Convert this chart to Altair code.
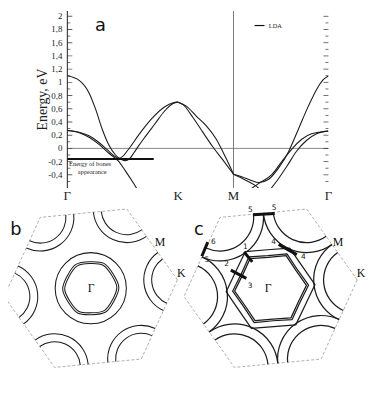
import math
import altair as alt
import pandas as pd

SERIF = "Liberation Serif"
SANS = "DejaVu Sans"
INK = "#1c1c1c"

# ================= panel a : bands along Γ–K–M–Γ =================
# path coordinate: Γ = 0, K = 1, M = 1.5, Γ = 2.357
kpath_pos = [0.0, 1.0, 1.5, 2.357]
kpath_lab = ["Γ", "K", "M", "Γ"]
y_major = [-0.4, -0.2, 0.0, 0.2, 0.4, 0.6, 0.8, 1.0, 1.2, 1.4, 1.6, 1.8, 2.0]
y_minor = [-0.5, -0.3, -0.1, 0.1, 0.3, 0.5, 0.7, 0.9, 1.1, 1.3, 1.5, 1.7, 1.9]
y_title = "Energy, eV"

b1_k = [0, 0.107, 0.196, 0.256, 0.315, 0.375, 0.435, 0.48, 0.52, 0.56, 0.60, 0.64, 0.70, 0.79, 0.88, 0.955, 1.0]
b1_E = [1.10, 1.03, 0.84, 0.59, 0.29, 0.05, -0.10, -0.16, -0.185, -0.16, -0.07, 0.03, 0.17, 0.37, 0.57, 0.68, 0.70]
b2_k = [0, 0.107, 0.196, 0.286, 0.36, 0.42, 0.464, 0.50, 0.54, 0.58, 0.643, 0.762, 0.88, 0.955, 1.0]
b2_E = [0.27, 0.245, 0.19, 0.09, -0.02, -0.11, -0.15, -0.12, -0.04, 0.05, 0.20, 0.45, 0.63, 0.69, 0.70]
b3_k = [0, 0.107, 0.196, 0.286, 0.375, 0.464, 0.524, 0.583, 0.628, 0.66]
b3_E = [0.27, 0.236, 0.168, 0.06, -0.074, -0.196, -0.34, -0.49, -0.61, -0.70]
k1_k = [1.0, 1.045, 1.134, 1.223, 1.3125, 1.402, 1.5]
k1_E = [0.70, 0.663, 0.467, 0.246, 0.025, -0.171, -0.392]
k2_k = [1.0, 1.074, 1.164, 1.253, 1.342, 1.432, 1.5]
k2_E = [0.70, 0.64, 0.49, 0.345, 0.147, -0.147, -0.392]
m1_k = [1.5, 1.58, 1.655, 1.729, 1.818, 1.908, 1.997, 2.087, 2.176, 2.265, 2.31, 2.357]
m1_E = [-0.392, -0.432, -0.481, -0.516, -0.466, -0.295, -0.049, 0.295, 0.64, 0.934, 1.04, 1.096]
m2_k = [1.5, 1.61, 1.699, 1.759]
m2_E = [-0.392, -0.481, -0.564, -0.65]
m3_k = [1.625, 1.729, 1.848, 1.9375, 2.027, 2.116, 2.205, 2.357]
m3_E = [-0.65, -0.53, -0.392, -0.196, -0.01, 0.138, 0.221, 0.26]
m4_k = [1.818, 1.893, 1.982, 2.071, 2.161, 2.25, 2.357]
m4_E = [-0.65, -0.49, -0.27, -0.04, 0.123, 0.221, 0.265]

bones_E = -0.16
bones_k = [0.0, 0.78]
bones_text = ["Energy of bones", "appearance"]

# ================= panels b, c : Fermi contours (px from Γ, y up) =================
bz_x = [87.6, 36.5, -51.1, -87.6, -36.5, 51.1]
bz_y = [8.4, 80.1, 71.6, -8.4, -80.1, -71.6]
k_sector_start = [204.5, 144.5, 84.5, 24.5, 324.5, 264.5]   # deg, clockwise from 12 o'clock

# Γ-centred hexagonal contours: radius to the corners / to the flat sides, tilt (deg)
b_hex_corner = [31.0, 28.8]
b_hex_flat = [26.8, 24.9]
b_hex_tilt = 2.0
b_gamma_circle_r = [36]
b_k_arc_r = [26, 34]

c_hex_corner = [38.5, 36.4, 45.0]
c_hex_flat = [33.0, 31.3, 39.0]
c_hex_tilt = 4.5
c_k_arc_r = [34, 44]

c_seg_x1 = [-17.8, -63.5, -26.8, -40.2, 8.2]
c_seg_y1 = [74.3, 46.6, 36.6, 18.3, 44.3]
c_seg_x2 = [4.2, -69.5, -18.5, -24.5, 26.5]
c_seg_y2 = [75.6, 32.3, 26.6, 10.0, 34.0]
c_num_text = ["5", "5", "6", "5", "1", "2", "3", "4", "4"]
c_num_x = [-20.5, 3.5, -57.8, -64.5, -25.5, -44.5, -20.8, 3.2, 33.2]
c_num_y = [79.3, 81.3, 46.3, 28.3, 41.3, 24.3, 2.6, 46.6, 31.6]

# ---------------- panel a ----------------
series = {"b1": (b1_k, b1_E), "b2": (b2_k, b2_E), "b3": (b3_k, b3_E),
          "k1": (k1_k, k1_E), "k2": (k2_k, k2_E), "m1": (m1_k, m1_E),
          "m2": (m2_k, m2_E), "m3": (m3_k, m3_E), "m4": (m4_k, m4_E)}
rows = []
for name, (ks, es) in series.items():
    for i, (k, e) in enumerate(zip(ks, es)):
        rows.append({"band": name, "i": i, "k": k, "E": e})
bands_df = pd.DataFrame(rows)

EMIN, EMAX = -0.6, 2.08
kscale = alt.Scale(domain=[-0.5357, 2.357], nice=False, zero=False)
escale = alt.Scale(domain=[EMIN, EMAX], nice=False, zero=False)
xk = alt.X("k:Q", scale=kscale, axis=None)
yE = alt.Y("E:Q", scale=escale, axis=None)

zero_layer = alt.Chart(pd.DataFrame({"k": [kpath_pos[0]], "k2": [kpath_pos[-1]], "E": [0.0]})).mark_rule(
    color="#7a7a7a", strokeWidth=0.9).encode(x=xk, x2="k2", y=yE)
m_layer = alt.Chart(pd.DataFrame({"k": [kpath_pos[2]]})).mark_rule(
    color="#6a6a6a", strokeWidth=0.9).encode(x=xk)
yaxis_line = alt.Chart(pd.DataFrame({"k": [kpath_pos[0]]})).mark_rule(
    color=INK, strokeWidth=1).encode(x=xk)
bands_layer = alt.Chart(bands_df).mark_line(
    interpolate="monotone", color=INK, strokeWidth=1.1, clip=True).encode(
    x=xk, y=yE, detail="band:N", order="i:Q")
bones_layer = alt.Chart(pd.DataFrame({"k": [bones_k[0]], "k2": [bones_k[1]], "E": [bones_E]})).mark_rule(
    color="#111111", strokeWidth=2.2).encode(x=xk, x2="k2", y=yE)
bones_txt_layer = alt.Chart(pd.DataFrame({"k": [0.205, 0.225], "E": [-0.27, -0.385], "t": bones_text})).mark_text(
    font=SERIF, fontSize=6.5, color=INK, align="center", baseline="alphabetic").encode(x=xk, y=yE, text="t:N")
a_layer = alt.Chart(pd.DataFrame({"k": [0.30], "E": [1.78], "t": ["a"]})).mark_text(
    font=SANS, fontSize=18, color="#111111", align="center", baseline="alphabetic").encode(x=xk, y=yE, text="t:N")
leg_line = alt.Chart(pd.DataFrame({"k": [1.69], "k2": [1.78], "E": [1.86]})).mark_rule(
    color="#111111", strokeWidth=1.2).encode(x=xk, x2="k2", y=yE)
leg_txt = alt.Chart(pd.DataFrame({"k": [1.818], "E": [1.86], "t": ["LDA"]})).mark_text(
    font=SERIF, fontSize=6.5, color=INK, align="left", baseline="middle").encode(x=xk, y=yE, text="t:N")

ylab_df = pd.DataFrame({"k": [kpath_pos[0]] * len(y_major), "E": y_major,
                        "t": [f"{v:g}".replace(".", ",") for v in y_major]})
ylab_layer = alt.Chart(ylab_df).mark_text(
    font=SERIF, fontSize=9, color=INK, align="right", baseline="middle", xOffset=-5).encode(
    x=xk, y=yE, text="t:N")
ytitle_layer = alt.Chart(pd.DataFrame({"k": [-0.222], "E": [0.74], "t": [y_title]})).mark_text(
    font=SERIF, fontSize=14, color=INK, align="center", baseline="middle", angle=270).encode(
    x=xk, y=yE, text="t:N")
xlab_df = pd.DataFrame({"k": kpath_pos, "E": [EMIN] * 4, "t": kpath_lab})
xlab_layer = alt.Chart(xlab_df).mark_text(
    font=SERIF, fontSize=13, color=INK, align="center", baseline="top", yOffset=2).encode(
    x=xk, y=yE, text="t:N")

tick_rows = []
for side, kk in (("L", kpath_pos[0]), ("R", kpath_pos[-1])):
    for v in y_major:
        tick_rows.append({"k": kk, "E": v, "side": side, "kind": "major"})
    for v in y_minor:
        tick_rows.append({"k": kk, "E": v, "side": side, "kind": "minor"})
ticks_df = pd.DataFrame(tick_rows)
tick_layers = []
for side, sgn in (("L", 1), ("R", -1)):
    for kind, ln in (("major", 5), ("minor", 3)):
        tick_layers.append(
            alt.Chart(ticks_df).transform_filter(
                f"datum.side == '{side}' && datum.kind == '{kind}'").mark_tick(
                orient="horizontal", size=ln, thickness=0.9, xOffset=sgn * ln / 2, color=INK).encode(x=xk, y=yE))

panel_a = alt.layer(zero_layer, m_layer, yaxis_line, bands_layer, bones_layer, bones_txt_layer, a_layer,
                    leg_line, leg_txt, ylab_layer, ytitle_layer, xlab_layer,
                    *tick_layers).properties(width=324, height=179)


# ---------------- panels b, c ----------------
def hex_table(corners, flats, tilt):
    rows = []
    for s, (rc, rf) in enumerate(zip(corners, flats)):
        for j in range(12):
            r = rc if j % 2 == 0 else rf
            a = math.radians(tilt + 30 * j)
            rows.append({"s": s, "j": j, "x": r * math.cos(a), "y": r * math.sin(a)})
    return pd.DataFrame(rows)


def bz_panel(xdom, width, hex_df, hex_interp, arc_r, circle_r, label_df, extras, lw):
    xs = alt.Scale(domain=xdom, nice=False, zero=False)
    ys = alt.Scale(domain=[-83.7, 83.3], nice=False, zero=False)
    X = lambda f: alt.X(f"{f}:Q", scale=xs, axis=None)
    Y = lambda f: alt.Y(f"{f}:Q", scale=ys, axis=None)

    border = alt.Chart(pd.DataFrame({"x": bz_x, "y": bz_y, "i": list(range(6))})).mark_line(
        interpolate="linear-closed", color="#9a9a9a", strokeWidth=0.8, strokeDash=[3, 2], clip=True).encode(
        x=X("x"), y=Y("y"), order="i:Q")

    hexes = alt.Chart(hex_df).mark_line(
        interpolate=hex_interp, color=INK, strokeWidth=lw, strokeJoin="round").encode(
        x=X("x"), y=Y("y"), detail="s:N", order="j:Q")

    arows = []
    for r in circle_r:
        arows.append({"cx": 0.0, "cy": 0.0, "t1": 0.0, "t2": 2 * math.pi, "r": r})
    for cx, cy, st in zip(bz_x, bz_y, k_sector_start):
        for r in arc_r:
            arows.append({"cx": cx, "cy": cy, "t1": math.radians(st), "t2": math.radians(st + 120), "r": r})
    arcs = alt.Chart(pd.DataFrame(arows)).mark_arc(filled=False, color=INK, strokeWidth=lw).encode(
        x=X("cx"), y=Y("cy"),
        theta=alt.Theta("t1:Q", scale=None, stack=None), theta2=alt.Theta2("t2"),
        radius=alt.Radius("r:Q", scale=None), radius2=alt.Radius2("r"))

    labs = alt.Chart(label_df).transform_filter("datum.kind == 'pt'").mark_text(
        font=SERIF, fontSize=12, color="#111111", align="center", baseline="middle").encode(
        x=X("x"), y=Y("y"), text="t:N")
    letter = alt.Chart(label_df).transform_filter("datum.kind == 'letter'").mark_text(
        font=SANS, fontSize=18, color="#111111", align="center", baseline="alphabetic").encode(
        x=X("x"), y=Y("y"), text="t:N")
    layers = [border, hexes, arcs, labs, letter] + [e(X, Y) for e in extras]
    return alt.layer(*layers).properties(width=width, height=167)


b_labels = pd.DataFrame({"t": ["Γ", "M", "K", "b"], "x": [0.3, 70.0, 91.6, -75.7],
                         "y": [0.0, 46.6, 15.0, 53.3], "kind": ["pt", "pt", "pt", "letter"]})
c_labels = pd.DataFrame({"t": ["Γ", "M", "K", "c"], "x": [-2.5, 68.2, 91.5, -72.5],
                         "y": [0.0, 46.6, 15.0, 53.3], "kind": ["pt", "pt", "pt", "letter"]})


def c_segments(X, Y):
    df = pd.DataFrame({"x1": c_seg_x1, "y1": c_seg_y1, "x2": c_seg_x2, "y2": c_seg_y2})
    return alt.Chart(df).mark_rule(color="#111111", strokeWidth=3, strokeCap="butt").encode(
        x=X("x1"), y=Y("y1"), x2="x2", y2="y2")


def c_numbers(X, Y):
    df = pd.DataFrame({"t": c_num_text, "x": c_num_x, "y": c_num_y})
    return alt.Chart(df).mark_text(font=SANS, fontSize=7.5, color="#222222", align="center",
                                   baseline="middle").encode(x=X("x"), y=Y("y"), text="t:N")


panel_b = bz_panel([-83.7, 92.3], 176, hex_table(b_hex_corner, b_hex_flat, b_hex_tilt), "basis-closed",
                   b_k_arc_r, b_gamma_circle_r, b_labels, [], 1.05)
panel_c = bz_panel([-87.5, 92.5], 180, hex_table(c_hex_corner, c_hex_flat, c_hex_tilt), "linear-closed",
                   c_k_arc_r, [], c_labels, [c_segments, c_numbers], 1.25)

bottom = alt.hconcat(panel_b, panel_c, spacing=2, bounds="flush")
chart = alt.vconcat(panel_a, bottom, spacing=18, bounds="flush").properties(
    padding=0).configure_view(strokeOpacity=0)

chart.save("out.html", embed_options={"renderer": "svg", "actions": False})
